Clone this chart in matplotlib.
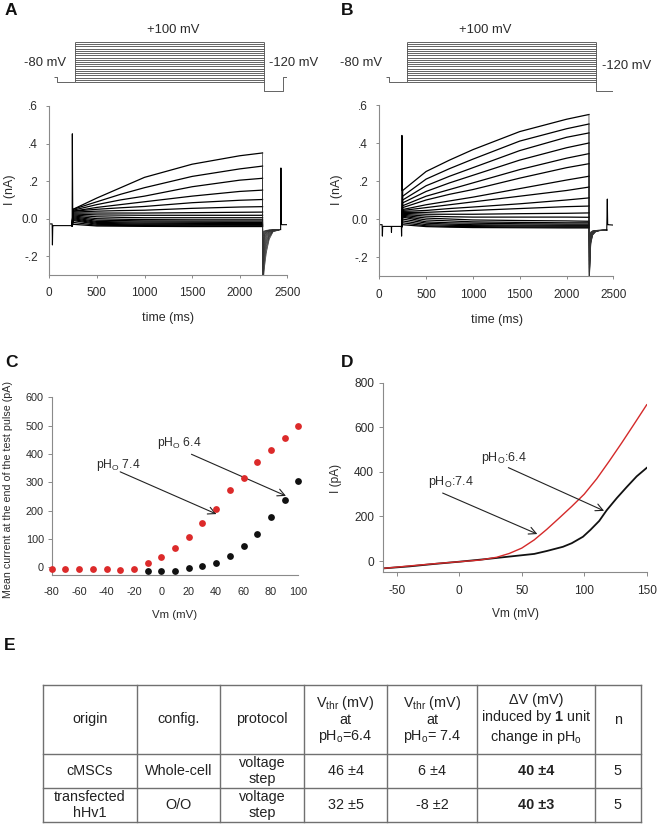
import matplotlib
matplotlib.use("Agg")
import matplotlib.pyplot as plt

plt.rcParams["font.family"] = ["Liberation Sans", "DejaVu Sans"]
plt.rcParams["mathtext.fontset"] = "custom"
plt.rcParams["mathtext.rm"] = "Liberation Sans"
plt.rcParams["mathtext.it"] = "Liberation Sans:italic"
plt.rcParams["mathtext.bf"] = "Liberation Sans:bold"
plt.rcParams["axes.unicode_minus"] = False

# ---------------- data ----------------
# Panels A/B : current traces (nA) sampled at read-off times (ms)
T_ONSET = 240
T_PULSE = [250, 500, 750, 1000, 1500, 2000, 2240]
T_TAIL = [2243, 2260, 2280, 2310, 2350, 2430]

A_HOLD_LEVEL = -0.037
A_HOLD_T = [0, 30, 33, 36, 40, 240, 242, 246]
A_HOLD_I = [-0.028, -0.028, -0.14, -0.045, -0.037, -0.037, 0.452, 0.05]
A_END_T = [2430, 2433, 2437, 2442, 2500]
A_END_I = [-0.058, 0.27, -0.03, -0.032, -0.032]
A_PULSE = [
    [0.05, 0.11, 0.165, 0.22, 0.29, 0.335, 0.35],
    [0.05, 0.09, 0.13, 0.165, 0.225, 0.265, 0.28],
    [0.045, 0.075, 0.10, 0.12, 0.17, 0.205, 0.215],
    [0.04, 0.06, 0.075, 0.09, 0.12, 0.145, 0.152],
    [0.04, 0.05, 0.058, 0.065, 0.085, 0.098, 0.102],
    [0.035, 0.04, 0.043, 0.045, 0.055, 0.062, 0.064],
    [0.03, 0.03, 0.03, 0.03, 0.032, 0.034, 0.035],
    [0.025, 0.02, 0.019, 0.018, 0.018, 0.018, 0.018],
    [0.02, 0.01, 0.007, 0.005, 0.005, 0.005, 0.005],
    [0.015, 0.0, -0.003, -0.005, -0.006, -0.006, -0.006],
    [0.01, -0.008, -0.01, -0.012, -0.013, -0.013, -0.013],
    [0.005, -0.015, -0.017, -0.018, -0.019, -0.02, -0.02],
    [0.0, -0.02, -0.022, -0.024, -0.025, -0.026, -0.026],
    [-0.005, -0.025, -0.027, -0.029, -0.03, -0.031, -0.031],
    [-0.01, -0.03, -0.032, -0.033, -0.034, -0.035, -0.035],
    [-0.02, -0.035, -0.036, -0.037, -0.038, -0.039, -0.039],
    [-0.03, -0.039, -0.04, -0.041, -0.042, -0.042, -0.042],
]
A_TAIL = [
    [-0.36, -0.26, -0.18, -0.11, -0.07, -0.058],
    [-0.34, -0.23, -0.16, -0.10, -0.068, -0.058],
    [-0.32, -0.21, -0.145, -0.095, -0.066, -0.058],
    [-0.30, -0.19, -0.13, -0.09, -0.065, -0.058],
    [-0.28, -0.17, -0.12, -0.085, -0.064, -0.058],
    [-0.26, -0.155, -0.11, -0.08, -0.063, -0.058],
    [-0.24, -0.14, -0.10, -0.076, -0.062, -0.058],
    [-0.22, -0.125, -0.092, -0.072, -0.061, -0.058],
    [-0.20, -0.11, -0.085, -0.07, -0.06, -0.058],
    [-0.18, -0.10, -0.08, -0.068, -0.06, -0.058],
    [-0.16, -0.09, -0.075, -0.066, -0.06, -0.058],
    [-0.14, -0.085, -0.072, -0.064, -0.06, -0.058],
    [-0.12, -0.08, -0.07, -0.063, -0.06, -0.058],
    [-0.10, -0.075, -0.067, -0.062, -0.06, -0.058],
    [-0.09, -0.07, -0.065, -0.061, -0.06, -0.058],
    [-0.08, -0.068, -0.064, -0.061, -0.06, -0.058],
    [-0.07, -0.065, -0.062, -0.06, -0.059, -0.058],
]

B_HOLD_LEVEL = -0.039
B_HOLD_T = [0, 30, 33, 36, 40, 128, 130, 132, 236, 238, 240, 242, 246]
B_HOLD_I = [-0.03, -0.03, -0.09, -0.042, -0.039, -0.039, -0.07, -0.039,
            -0.039, -0.09, -0.039, 0.44, 0.15]
B_END_T = [2430, 2436, 2440, 2445, 2500]
B_END_I = [-0.058, 0.105, -0.03, -0.03, -0.032]
B_PULSE = [
    [0.15, 0.25, 0.31, 0.365, 0.46, 0.525, 0.55],
    [0.12, 0.21, 0.265, 0.315, 0.41, 0.475, 0.50],
    [0.10, 0.175, 0.225, 0.27, 0.36, 0.43, 0.453],
    [0.085, 0.145, 0.19, 0.23, 0.31, 0.375, 0.40],
    [0.07, 0.12, 0.155, 0.19, 0.26, 0.32, 0.344],
    [0.06, 0.10, 0.13, 0.155, 0.215, 0.27, 0.291],
    [0.05, 0.075, 0.095, 0.115, 0.16, 0.205, 0.225],
    [0.045, 0.06, 0.075, 0.09, 0.12, 0.15, 0.168],
    [0.04, 0.045, 0.055, 0.063, 0.08, 0.10, 0.111],
    [0.035, 0.035, 0.04, 0.045, 0.055, 0.065, 0.068],
    [0.03, 0.025, 0.025, 0.025, 0.028, 0.03, 0.032],
    [0.025, 0.015, 0.012, 0.01, 0.01, 0.01, 0.009],
    [0.02, 0.005, 0.0, -0.005, -0.008, -0.01, -0.012],
    [0.015, -0.005, -0.01, -0.015, -0.018, -0.02, -0.02],
    [0.01, -0.015, -0.02, -0.022, -0.025, -0.027, -0.027],
    [0.0, -0.022, -0.027, -0.03, -0.032, -0.033, -0.033],
    [-0.01, -0.03, -0.033, -0.035, -0.037, -0.038, -0.038],
    [-0.02, -0.036, -0.039, -0.04, -0.042, -0.043, -0.043],
    [-0.03, -0.04, -0.043, -0.045, -0.046, -0.047, -0.047],
]
B_TAIL = [
    [-0.34, -0.13, -0.085, -0.068, -0.062, -0.058],
    [-0.33, -0.125, -0.083, -0.067, -0.062, -0.058],
    [-0.32, -0.12, -0.081, -0.066, -0.061, -0.058],
    [-0.31, -0.115, -0.08, -0.066, -0.061, -0.058],
    [-0.30, -0.11, -0.078, -0.065, -0.061, -0.058],
    [-0.28, -0.105, -0.077, -0.065, -0.06, -0.058],
    [-0.26, -0.10, -0.075, -0.064, -0.06, -0.058],
    [-0.24, -0.095, -0.074, -0.064, -0.06, -0.058],
    [-0.22, -0.09, -0.072, -0.063, -0.06, -0.058],
    [-0.20, -0.088, -0.071, -0.063, -0.06, -0.058],
    [-0.18, -0.085, -0.07, -0.062, -0.06, -0.058],
    [-0.16, -0.082, -0.069, -0.062, -0.06, -0.058],
    [-0.15, -0.08, -0.068, -0.062, -0.06, -0.058],
    [-0.14, -0.078, -0.067, -0.061, -0.06, -0.058],
    [-0.13, -0.076, -0.066, -0.061, -0.06, -0.058],
    [-0.12, -0.074, -0.065, -0.061, -0.06, -0.058],
    [-0.11, -0.072, -0.064, -0.06, -0.059, -0.058],
    [-0.10, -0.07, -0.063, -0.06, -0.059, -0.058],
    [-0.09, -0.068, -0.062, -0.06, -0.059, -0.058],
]

TRACE_XTICKS = [0, 500, 1000, 1500, 2000, 2500]
TRACE_YTICKS = [-0.2, 0.0, 0.2, 0.4, 0.6]
TRACE_YTICKLABELS = ["-.2", "0.0", ".2", ".4", ".6"]

# Voltage protocol (mV) and its times (ms) as drawn
PROTO_LEVELS = [-80, -70, -60, -50, -40, -30, -20, -10, 0, 10, 20, 30, 40,
                50, 60, 70, 80, 90, 100]
PROTO_HOLD = -80
PROTO_PRE = -58
PROTO_TAIL = -120
A_PROTO_T = [49, 84, 270, 2258, 2458, 2510]
B_PROTO_T = [72, 107, 293, 2312, 2511, 2571]

# Panel C : mean current at end of test pulse (pA)
C_V = [-80, -70, -60, -50, -40, -30, -20, -10, 0, 10, 20, 30, 40, 50, 60, 70,
       80, 90, 100]
C_PH64 = [-5, -5, -6, -6, -7, -8, -7, 15, 35, 69, 106, 158, 207, 274, 315,
          370, 414, 458, 499]
C_V74 = [-10, 0, 10, 20, 30, 40, 50, 60, 70, 80, 90, 100]
C_PH74 = [-12, -13, -13, -2, 3, 17, 40, 76, 119, 176, 238, 305]
C_XTICKS = [-80, -60, -40, -20, 0, 20, 40, 60, 80, 100]
C_YTICKS = [0, 100, 200, 300, 400, 500, 600]

# Panel D : ramp I-V curves (pA)
D_RED_V = [-61, -40, -20, 0, 16, 30, 40, 50, 60, 70, 80, 90, 100, 110, 120,
           130, 140, 150]
D_RED_I = [-33, -22, -12, -3, 4, 17, 34, 58, 95, 142, 193, 245, 300, 369, 448,
           530, 615, 701]
D_BLK_V = [-61, -40, -20, 0, 20, 40, 60, 70, 83, 90, 99, 105, 112, 118, 126,
           134, 142, 150]
D_BLK_I = [-33, -24, -13, -3, 8, 20, 32, 45, 64, 80, 109, 140, 180, 228, 282,
           332, 380, 418]
D_XTICKS = [-50, 0, 50, 100, 150]
D_YTICKS = [0, 200, 400, 600, 800]

# Panel E : table
TABLE_HEADER = [
    "origin", "config.", "protocol",
    "V$_{\\mathrm{thr}}$ (mV)\nat\npH$_{\\mathrm{o}}$=6.4",
    "V$_{\\mathrm{thr}}$ (mV)\nat\npH$_{\\mathrm{o}}$= 7.4",
    "\u0394V (mV)\ninduced by $\\mathbf{1}$ unit\nchange in pH$_{\\mathrm{o}}$",
    "n",
]
TABLE_ROWS = [
    ["cMSCs", "Whole-cell", "voltage\nstep", "46 \u00b14", "6 \u00b14",
     "40 \u00b14", "5"],
    ["transfected\nhHv1", "O/O", "voltage\nstep", "32 \u00b15", "-8 \u00b12",
     "40 \u00b13", "5"],
]
TABLE_BOLD_COL = 5

# ---------------- layout ----------------
W, H = 657, 824
fig = plt.figure(figsize=(W / 100, H / 100), dpi=100)
TXT = "#2b2b2b"
SPINE = "#8a8a8a"
RED = "#dc2a2a"


def rect(l, t, r, b):
    return [l / W, 1 - b / H, (r - l) / W, (b - t) / H]


ov = fig.add_axes([0, 0, 1, 1], zorder=0)
ov.set_xlim(0, W)
ov.set_ylim(H, 0)
ov.axis("off")
ov.patch.set_alpha(0)


def style(ax, fs, ylen=2.5, xlen=2.5, ypad=5.0, xpad=6.5):
    for s in ("top", "right"):
        ax.spines[s].set_visible(False)
    for s in ("left", "bottom"):
        ax.spines[s].set_color(SPINE)
        ax.spines[s].set_linewidth(0.8)
    ax.tick_params(axis="y", length=ylen, width=0.7, color=SPINE,
                   labelsize=fs, labelcolor=TXT, pad=ypad)
    ax.tick_params(axis="x", length=xlen, width=0.7, color=SPINE,
                   labelsize=fs, labelcolor=TXT, pad=xpad)
    ax.patch.set_alpha(0)


def draw_traces(ax, hold_t, hold_i, hold_level, pulses, tails, end_t, end_i):
    ax.plot(hold_t, hold_i, color="k", lw=0.8)
    for p, tl in zip(pulses, tails):
        ax.plot([T_ONSET] + T_PULSE, [hold_level] + p, color="k", lw=0.9)
        ax.plot([T_PULSE[-1]] + T_TAIL, [p[-1]] + tl, color="#333333", lw=0.5)
    ax.plot(end_t, end_i, color="k", lw=0.8)
    ax.set_xlim(0, 2500)
    ax.set_ylim(-0.3, 0.6)
    ax.set_xticks(TRACE_XTICKS)
    ax.set_yticks(TRACE_YTICKS, TRACE_YTICKLABELS)
    style(ax, 8.5, ylen=2.5, xlen=2.0, ypad=5.5, xpad=7.0)


def draw_protocol(ax, pt):
    kw = dict(color="#4a4a4a", lw=0.6, solid_capstyle="butt")
    ax.plot([pt[0], pt[1], pt[1], pt[2]],
            [PROTO_PRE, PROTO_PRE, PROTO_HOLD, PROTO_HOLD], **kw)
    for v in PROTO_LEVELS:
        ax.plot([pt[2], pt[3]], [v, v], **kw)
    ax.plot([pt[2], pt[2]], [PROTO_LEVELS[0], PROTO_LEVELS[-1]], **kw)
    ax.plot([pt[3], pt[3], pt[4], pt[4], pt[5]],
            [PROTO_LEVELS[-1], PROTO_TAIL, PROTO_TAIL, PROTO_PRE, PROTO_PRE], **kw)
    ax.set_xlim(0, 2500)
    ax.set_ylim(-138.5, 154)
    ax.axis("off")


# Panel A
pa = fig.add_axes(rect(49.3, 30, 287.3, 95))
draw_protocol(pa, A_PROTO_T)
axA = fig.add_axes(rect(49.3, 106, 287.3, 275))
draw_traces(axA, A_HOLD_T, A_HOLD_I, A_HOLD_LEVEL, A_PULSE, A_TAIL, A_END_T, A_END_I)

# Panel B
pb = fig.add_axes(rect(379.3, 30, 613.3, 95))
draw_protocol(pb, B_PROTO_T)
axB = fig.add_axes(rect(379.3, 105, 613.3, 276))
draw_traces(axB, B_HOLD_T, B_HOLD_I, B_HOLD_LEVEL, B_PULSE, B_TAIL, B_END_T, B_END_I)

for (x, y, s) in [(173, 30, "+100 mV"), (45.5, 63, "-80 mV"), (294, 63, "-120 mV"),
                  (485, 30, "+100 mV"), (360.5, 63, "-80 mV"), (627, 66, "-120 mV")]:
    ov.text(x, y, s, fontsize=9.4, color=TXT, ha="center", va="center")

for (x, y, s) in [(168, 318, "time (ms)"), (497, 320, "time (ms)")]:
    ov.text(x, y, s, fontsize=9, color=TXT, ha="center", va="center")
for (x, y) in [(10, 190), (337, 190)]:
    ov.text(x, y, "I (nA)", fontsize=9, color=TXT, ha="center", va="center",
            rotation=90)

# Panel C
axC = fig.add_axes(rect(51.7, 397.3, 298.3, 575))
axC.scatter(C_V74, C_PH74, s=24, color="#111111", zorder=3, clip_on=False,
            linewidths=0)
axC.scatter(C_V, C_PH64, s=24, color=RED, zorder=4, clip_on=False, linewidths=0)
axC.set_xlim(-80, 100)
axC.set_ylim(-27, 600)
axC.set_xticks(C_XTICKS)
axC.set_yticks(C_YTICKS)
style(axC, 7.8, ylen=2.7, xlen=0, ypad=3.0, xpad=8.5)
arrow_kw = dict(arrowstyle="->", lw=0.8, color="#222222", mutation_scale=13,
                shrinkA=0, shrinkB=0)
axC.annotate("", xy=(40.3, 188), xytext=(-30, 337), arrowprops=arrow_kw)
axC.annotate("", xy=(91, 252), xytext=(22, 399), arrowprops=arrow_kw)
axC.text(-31.3, 361, "pH$_{\\mathrm{O}}$ 7.4", fontsize=8.7, color=TXT,
         ha="center", va="center")
axC.text(13.2, 440, "pH$_{\\mathrm{O}}$ 6.4", fontsize=8.7, color=TXT,
         ha="center", va="center")
ov.text(175, 615, "Vm (mV)", fontsize=8.2, color=TXT, ha="center", va="center")
ov.text(8.5, 490, "Mean current at the end of the test pulse (pA)", fontsize=7.7,
        color=TXT, ha="center", va="center", rotation=90)

# Panel D
axD = fig.add_axes(rect(383.3, 382.7, 646.7, 572.3))
axD.plot(D_BLK_V, D_BLK_I, color="#111111", lw=1.3)
axD.plot(D_RED_V, D_RED_I, color="#d42a2a", lw=1.0)
axD.set_xlim(-60.8, 150)
axD.set_ylim(-50.5, 800)
axD.set_xticks(D_XTICKS)
axD.set_yticks(D_YTICKS)
style(axD, 8.6, ylen=2.7, xlen=2.7, ypad=4.0, xpad=6.3)
axD.annotate("", xy=(62.5, 121), xytext=(-13.3, 305), arrowprops=arrow_kw)
axD.annotate("", xy=(115.9, 225), xytext=(39.3, 419), arrowprops=arrow_kw)
axD.text(-6.6, 354, "pH$_{\\mathrm{O}}$:7.4", fontsize=9, color=TXT,
         ha="center", va="center")
axD.text(36, 463, "pH$_{\\mathrm{O}}$:6.4", fontsize=9, color=TXT,
         ha="center", va="center")
ov.text(515.7, 614, "Vm (mV)", fontsize=8.6, color=TXT, ha="center", va="center")
ov.text(336, 478, "I (pA)", fontsize=8.6, color=TXT, ha="center", va="center",
        rotation=90)

# Panel labels
for (x, y, s) in [(11, 10, "A"), (347.5, 10, "B"), (11, 362, "C"),
                  (347, 362, "D"), (10, 645, "E")]:
    ov.text(x, y, s, fontsize=12.5, fontweight="bold", color="#111111",
            ha="center", va="center")

# Panel E table
TAB_X = [43.3, 136.7, 220, 304, 387, 477, 594.7, 641]
TAB_Y = [685, 754, 787.7, 822.3]
for y in TAB_Y:
    ov.plot([TAB_X[0], TAB_X[-1]], [y, y], color="#707070", lw=1.0,
            solid_capstyle="projecting")
for x in TAB_X:
    ov.plot([x, x], [TAB_Y[0], TAB_Y[-1]], color="#707070", lw=1.0,
            solid_capstyle="projecting")
rows = [TABLE_HEADER] + TABLE_ROWS
for r, row in enumerate(rows):
    yc = (TAB_Y[r] + TAB_Y[r + 1]) / 2
    for c, cell in enumerate(row):
        xc = (TAB_X[c] + TAB_X[c + 1]) / 2
        bold = (r > 0 and c == TABLE_BOLD_COL)
        ov.text(xc, yc, cell, fontsize=10.4, color="#222222", ha="center",
                va="center", multialignment="center", linespacing=1.12,
                fontweight="bold" if bold else "normal")

fig.savefig("out.png", dpi=100)
